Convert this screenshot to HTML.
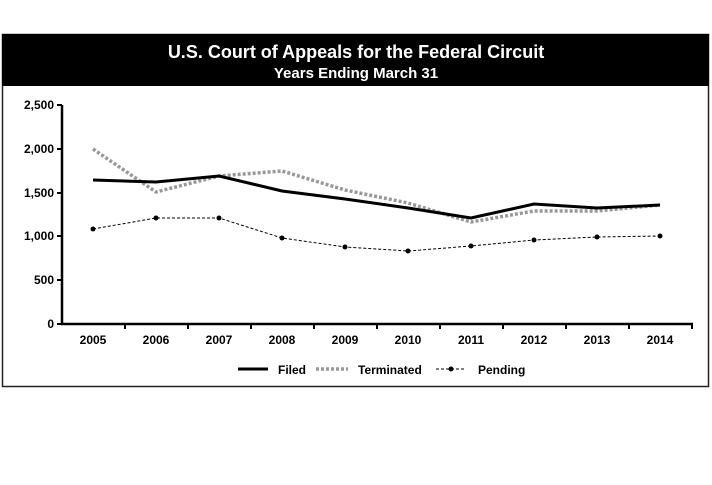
<!DOCTYPE html>
<html><head><style>body{margin:0;background:#fff;width:712px;height:480px;overflow:hidden}</style></head>
<body>
<svg width="712" height="480" xmlns="http://www.w3.org/2000/svg" font-family="Liberation Sans, sans-serif">
<rect x="2.5" y="34.5" width="706" height="352" fill="#fff" stroke="#222" stroke-width="1.5"/>
<rect x="2" y="34" width="707" height="52" fill="#000"/>
<text x="356" y="58" text-anchor="middle" fill="#fff" font-size="18" font-weight="bold">U.S. Court of Appeals for the Federal Circuit</text>
<text x="356" y="78" text-anchor="middle" fill="#fff" font-size="15" font-weight="bold">Years Ending March 31</text>
<g stroke="#000" stroke-width="2.5">
<line x1="62" y1="105" x2="62" y2="324"/>
<line x1="61" y1="324" x2="693" y2="324"/>
</g>
<g stroke="#000" stroke-width="2">
<line x1="57" y1="105" x2="62" y2="105"/><line x1="57" y1="149" x2="62" y2="149"/><line x1="57" y1="193" x2="62" y2="193"/><line x1="57" y1="236" x2="62" y2="236"/><line x1="57" y1="280" x2="62" y2="280"/><line x1="57" y1="324" x2="62" y2="324"/>
<line x1="125" y1="324" x2="125" y2="329"/><line x1="188" y1="324" x2="188" y2="329"/><line x1="251" y1="324" x2="251" y2="329"/><line x1="314" y1="324" x2="314" y2="329"/><line x1="377" y1="324" x2="377" y2="329"/><line x1="440" y1="324" x2="440" y2="329"/><line x1="503" y1="324" x2="503" y2="329"/><line x1="566" y1="324" x2="566" y2="329"/><line x1="629" y1="324" x2="629" y2="329"/><line x1="692" y1="324" x2="692" y2="329"/>
</g>
<g font-size="12" font-weight="bold" text-anchor="end">
<text x="54" y="109">2,500</text><text x="54" y="153">2,000</text><text x="54" y="197">1,500</text><text x="54" y="240">1,000</text><text x="54" y="284">500</text><text x="54" y="328">0</text>
</g>
<g font-size="12" font-weight="bold" text-anchor="middle">
<text x="93" y="344">2005</text><text x="156" y="344">2006</text><text x="219" y="344">2007</text><text x="282" y="344">2008</text><text x="345" y="344">2009</text><text x="408" y="344">2010</text><text x="471" y="344">2011</text><text x="534" y="344">2012</text><text x="597" y="344">2013</text><text x="660" y="344">2014</text>
</g>
<polyline fill="none" stroke="#999" stroke-width="3.5" stroke-dasharray="3,2" points="93,149 156,192 219,176 282,171 345,190 408,203 471,222 534,211 597,211 660,205"/>
<polyline fill="none" stroke="#000" stroke-width="3" points="93,180 156,182 219,176 282,191 345,199 408,208 471,218 534,204 597,208 660,205"/>
<polyline fill="none" stroke="#000" stroke-width="1" stroke-dasharray="3,2" points="93,229 156,218 219,218 282,238 345,247 408,251 471,246 534,240 597,237 660,236"/>
<g fill="#000">
<circle cx="93" cy="229" r="2.5"/><circle cx="156" cy="218" r="2.5"/><circle cx="219" cy="218" r="2.5"/><circle cx="282" cy="238" r="2.5"/><circle cx="345" cy="247" r="2.5"/><circle cx="408" cy="251" r="2.5"/><circle cx="471" cy="246" r="2.5"/><circle cx="534" cy="240" r="2.5"/><circle cx="597" cy="237" r="2.5"/><circle cx="660" cy="236" r="2.5"/>
</g>
<line x1="238" y1="369" x2="268" y2="369" stroke="#000" stroke-width="3"/>
<line x1="316" y1="369" x2="348" y2="369" stroke="#999" stroke-width="3.5" stroke-dasharray="3,2"/>
<line x1="436" y1="369" x2="466" y2="369" stroke="#000" stroke-width="1" stroke-dasharray="3,2"/>
<circle cx="451" cy="369" r="2.5" fill="#000"/>
<g font-size="12" font-weight="bold">
<text x="278" y="374">Filed</text><text x="358" y="374">Terminated</text><text x="478" y="374">Pending</text>
</g>
</svg>
</body></html>
